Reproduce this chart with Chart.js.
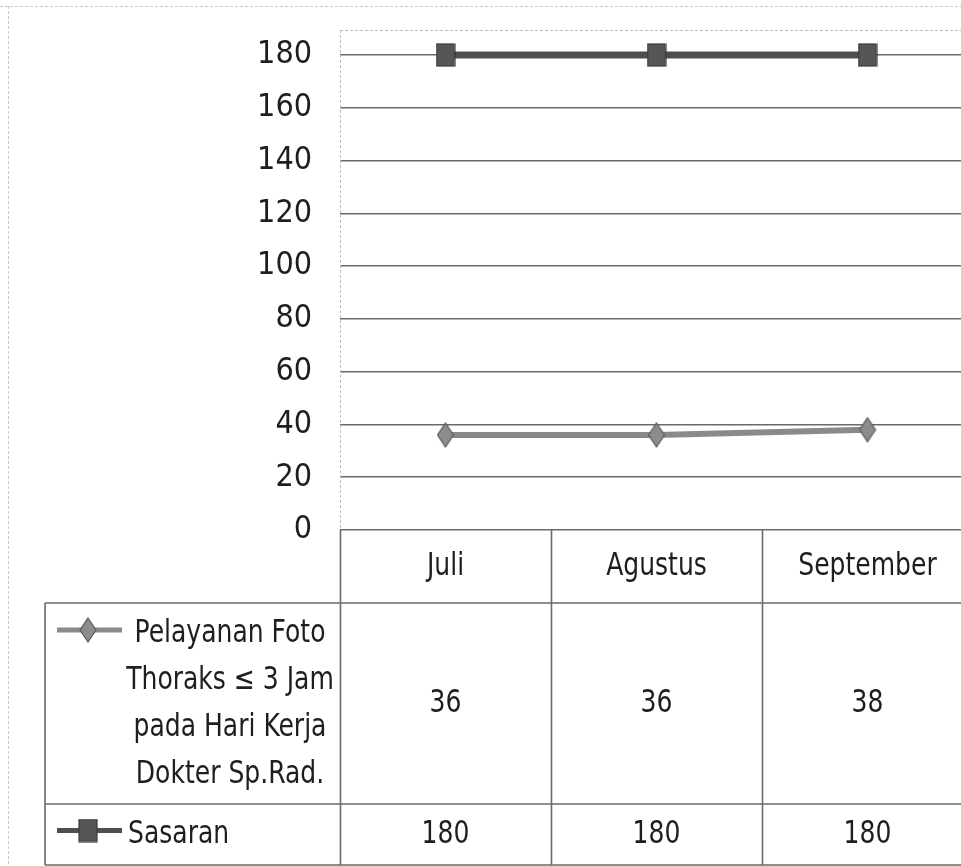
<!DOCTYPE html>
<html>
<head>
<meta charset="utf-8">
<script src="https://cdn.jsdelivr.net/npm/chart.js@4/dist/chart.umd.min.js"></script>
<style>
  html, body { margin: 0; padding: 0; background: #fff; overflow: hidden; }
  #wrap { position: relative; width: 990px; height: 866px; }
</style>
</head>
<body>
<div id="wrap"><canvas id="chart" width="990" height="866"></canvas></div>
<script>
// Months shown along the category axis and in the data table header
const categories = ['Juli', 'Agustus', 'September'];

// Series values
const pelayanan = [36, 36, 38];
const sasaran = [180, 180, 180];

// Series names as they appear in the table's first column
const pelayananName = ['Pelayanan Foto', 'Thoraks \u2264 3 Jam', 'pada Hari Kerja', 'Dokter Sp.Rad.'];
const sasaranName = ['Sasaran'];

// Value axis range
const yMin = 0;
const yMax = 180;
const yStep = 20;

const FONT = '"Liberation Sans Narrow", "DejaVu Sans Condensed", "Roboto Condensed", Roboto, sans-serif';
const TEXT = '#1e1e1e';
const RULE = '#6a6a6a';

// Marker images: a tall grey diamond and a dark square
function diamondMarker() {
  const c = document.createElement('canvas');
  c.width = 18; c.height = 26;
  const g = c.getContext('2d');
  g.beginPath();
  g.moveTo(9, 1); g.lineTo(17, 13); g.lineTo(9, 25); g.lineTo(1, 13); g.closePath();
  g.fillStyle = '#8c8c8c'; g.fill();
  g.strokeStyle = '#5a5a5a'; g.lineWidth = 1.2; g.stroke();
  return c;
}
function squareMarker() {
  const c = document.createElement('canvas');
  c.width = 20; c.height = 24;
  const g = c.getContext('2d');
  g.fillStyle = '#565656'; g.fillRect(1, 1, 18, 22);
  g.strokeStyle = '#3a3a3a'; g.lineWidth = 1.2; g.strokeRect(1, 1, 18, 22);
  return c;
}
const diamondImg = diamondMarker();
const squareImg = squareMarker();

// Narrow text: the table uses a condensed face
const TEXT_SCALE_X = 0.87;
function narrowText(ctx, str, x, y) {
  ctx.save();
  ctx.translate(x, y);
  ctx.scale(TEXT_SCALE_X, 1);
  ctx.fillText(str, 0, 0);
  ctx.restore();
}

// Excel-style data table under the plot, plus the faint chart frame
const dataTablePlugin = {
  id: 'dataTable',
  afterDraw(chart) {
    const ctx = chart.ctx;
    const area = chart.chartArea;
    const xs = chart.scales.x;
    const n = categories.length;
    const colW = area.width / n;

    const tableTop = area.bottom;
    const headBottom = 603;
    const row1Bottom = 804;
    const row2Bottom = 865;
    const leftEdge = 45;
    const right = chart.width;

    ctx.save();

    // faint outer frame and plot-area outline
    ctx.strokeStyle = '#c8c8c8';
    ctx.lineWidth = 1;
    ctx.setLineDash([3, 2]);
    ctx.beginPath();
    ctx.moveTo(0, 6.5); ctx.lineTo(right, 6.5);
    ctx.moveTo(8.5, 6); ctx.lineTo(8.5, chart.height);
    ctx.stroke();
    ctx.strokeStyle = '#bdbdbd';
    ctx.beginPath();
    ctx.moveTo(area.left, 30.5); ctx.lineTo(right, 30.5);
    ctx.moveTo(area.left + 0.5, 30); ctx.lineTo(area.left + 0.5, area.bottom);
    ctx.stroke();

    // table rules
    ctx.setLineDash([]);
    ctx.strokeStyle = RULE;
    ctx.lineWidth = 1.6;
    ctx.beginPath();
    [headBottom, row1Bottom, row2Bottom].forEach(y => {
      ctx.moveTo(leftEdge, y); ctx.lineTo(right, y);
    });
    ctx.moveTo(leftEdge, headBottom); ctx.lineTo(leftEdge, row2Bottom);
    for (let i = 0; i <= n; i++) {
      const x = Math.round(area.left + i * colW) + 0.5;
      ctx.moveTo(x, tableTop); ctx.lineTo(x, row2Bottom);
    }
    ctx.stroke();

    ctx.fillStyle = TEXT;
    ctx.font = '32px ' + FONT;
    ctx.textBaseline = 'middle';
    ctx.textAlign = 'center';

    // header row and values
    const headMid = (tableTop + headBottom) / 2;
    const row1Mid = (headBottom + row1Bottom) / 2;
    const row2Mid = (row1Bottom + row2Bottom) / 2;
    categories.forEach((c, i) => {
      const cx = xs.getPixelForValue(i);
      narrowText(ctx, c, cx, headMid);
      narrowText(ctx, String(pelayanan[i]), cx, row1Mid);
      narrowText(ctx, String(sasaran[i]), cx, row2Mid);
    });

    // series names
    const lineGap = 47;
    const firstLine = 634;
    pelayananName.forEach((t, k) => narrowText(ctx, t, 230, firstLine + k * lineGap));
    ctx.textAlign = 'left';
    sasaranName.forEach((t, k) => narrowText(ctx, t, 128, row2Mid + k * lineGap));

    // legend keys
    function key(y, color, width, img) {
      ctx.strokeStyle = color;
      ctx.lineWidth = width;
      ctx.beginPath();
      ctx.moveTo(57, y); ctx.lineTo(122, y);
      ctx.stroke();
      ctx.drawImage(img, 88 - img.width / 2, y - img.height / 2);
    }
    key(630, '#8a8a8a', 5, diamondImg);
    key(row2Mid - 4, '#4e4e4e', 5, squareImg);

    ctx.restore();
  }
};

new Chart(document.getElementById('chart'), {
  type: 'line',
  data: {
    labels: categories,
    datasets: [
      {
        label: pelayananName.join(' '),
        data: pelayanan,
        borderColor: '#8a8a8a',
        borderWidth: 6,
        pointStyle: diamondImg,
        pointRadius: 10,
        tension: 0,
        clip: false
      },
      {
        label: sasaranName.join(' '),
        data: sasaran,
        borderColor: '#4e4e4e',
        borderWidth: 7,
        pointStyle: squareImg,
        pointRadius: 10,
        tension: 0,
        clip: false
      }
    ]
  },
  options: {
    responsive: false,
    animation: false,
    events: [],
    layout: { padding: { top: 55, bottom: 336, right: 14, left: 0 } },
    plugins: {
      legend: { display: false },
      tooltip: { enabled: false },
      title: { display: false }
    },
    scales: {
      x: {
        type: 'category',
        offset: true,
        display: false
      },
      y: {
        min: yMin,
        max: yMax,
        ticks: {
          stepSize: yStep,
          padding: 28,
          color: TEXT,
          font: { family: FONT, size: 32 }
        },
        grid: {
          color: RULE,
          lineWidth: 1.6,
          drawTicks: false
        },
        border: { display: false },
        afterFit(scale) { scale.width = 340; }
      }
    }
  },
  plugins: [dataTablePlugin]
});
</script>
</body>
</html>
